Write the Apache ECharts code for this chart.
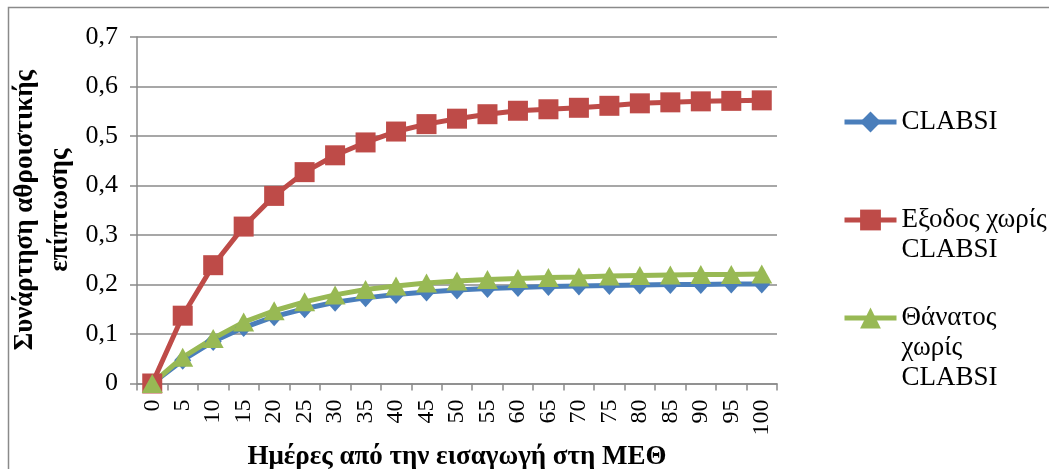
<!DOCTYPE html>
<html>
<head>
<meta charset="utf-8">
<script src="https://cdn.jsdelivr.net/npm/echarts@6/dist/echarts.min.js"></script>
<style>
html,body{margin:0;padding:0;background:#fff;}
#c{width:1049px;height:469px;}
</style>
</head>
<body>
<div id="c"></div>
<script>
const days = ['0','5','10','15','20','25','30','35','40','45','50','55','60','65','70','75','80','85','90','95','100'];
const clabsi = [0,0.047,0.085,0.113,0.135,0.151,0.164,0.173,0.180,0.185,0.189,0.192,0.194,0.196,0.197,0.198,0.199,0.200,0.200,0.201,0.201];
const exodos = [0,0.137,0.239,0.317,0.379,0.427,0.461,0.487,0.509,0.524,0.535,0.544,0.551,0.554,0.557,0.561,0.566,0.568,0.570,0.571,0.572];
const thanatos = [0,0.053,0.091,0.124,0.147,0.165,0.179,0.190,0.197,0.203,0.207,0.210,0.212,0.214,0.215,0.217,0.218,0.219,0.220,0.220,0.221];
const seriesNames = ['CLABSI','Εξοδος χωρίς CLABSI','Θάνατος χωρίς CLABSI'];
const legendLabels = ['CLABSI','\nΕξοδος χωρίς\nCLABSI','\n\nΘάνατος\nχωρίς\nCLABSI'];
const xTitle = 'Ημέρες από την εισαγωγή στη ΜΕΘ';
const yTitle = 'Συνάρτηση αθροιστικής\nεπίπτωσης';

const FONT = '"Liberation Serif", "Times New Roman", serif';
const chart = echarts.init(document.getElementById('c'), null, {renderer:'canvas'});
const legendTextStyle = {fontFamily: FONT, fontSize: 27, color: '#000', lineHeight: 30};
function mkLegend(i, top){
  return {
    left: 842, top: top, orient: 'vertical', data: [seriesNames[i]],
    itemWidth: 52, itemHeight: 26, itemGap: 0, padding: 0,
    lineStyle: {width: 5},
    formatter: function(){ return legendLabels[i]; },
    textStyle: legendTextStyle, selectedMode: false
  };
}
const colors = ['#4A7EBB','#BE4B48','#98B954'];
chart.setOption({
  animation: false,
  backgroundColor: '#fff',
  graphic: [{type:'rect', shape:{x:8.5,y:7.5,width:1200,height:600}, style:{fill:'none', stroke:'#8a8a8a', lineWidth:1.5}, silent:true}],
  legend: [mkLegend(0,107), mkLegend(1,175), mkLegend(2,243)],
  grid: {left:137, right:272, top:37, bottom:85.5, containLabel:false, outerBoundsMode:'none'},
  xAxis: {
    type:'category', data: days, boundaryGap: true,
    axisLine:{lineStyle:{color:'#8a8a8a', width:1.5}},
    axisTick:{show:true, length:7, lineStyle:{color:'#8a8a8a', width:1.5}},
    axisLabel:{rotate:90, interval:0, fontFamily:FONT, fontSize:24, color:'#000', margin:16},
    name: xTitle, nameLocation:'middle', nameGap:55,
    nameTextStyle:{fontFamily:FONT, fontSize:27, fontWeight:'bold', color:'#000'}
  },
  yAxis: {
    type:'value', min:0, max:0.7, interval:0.1,
    axisLine:{show:true, lineStyle:{color:'#8a8a8a', width:1.5}},
    axisTick:{show:true, length:7, lineStyle:{color:'#8a8a8a', width:1.5}},
    splitLine:{lineStyle:{color:'#8a8a8a', width:1.5}},
    axisLabel:{fontFamily:FONT, fontSize:26, color:'#000', margin:19,
      formatter: function(v){ return String(Math.round(v*10)/10).replace('.',','); }},
    name: yTitle, nameLocation:'middle', nameGap:59, nameRotate:90, nameMoveOverlap:false,
    nameTextStyle:{fontFamily:FONT, fontSize:27, fontWeight:'bold', color:'#000', lineHeight:35}
  },
  series: [
    {name:seriesNames[0], type:'line', data:clabsi, symbol:'diamond', symbolSize:[17,19],
     itemStyle:{color:colors[0]}, lineStyle:{color:colors[0], width:5}},
    {name:seriesNames[1], type:'line', data:exodos, symbol:'rect', symbolSize:20,
     itemStyle:{color:colors[1]}, lineStyle:{color:colors[1], width:5}},
    {name:seriesNames[2], type:'line', data:thanatos, symbol:'triangle', symbolSize:[21,19],
     itemStyle:{color:colors[2]}, lineStyle:{color:colors[2], width:5}}
  ]
});
</script>
</body>
</html>
